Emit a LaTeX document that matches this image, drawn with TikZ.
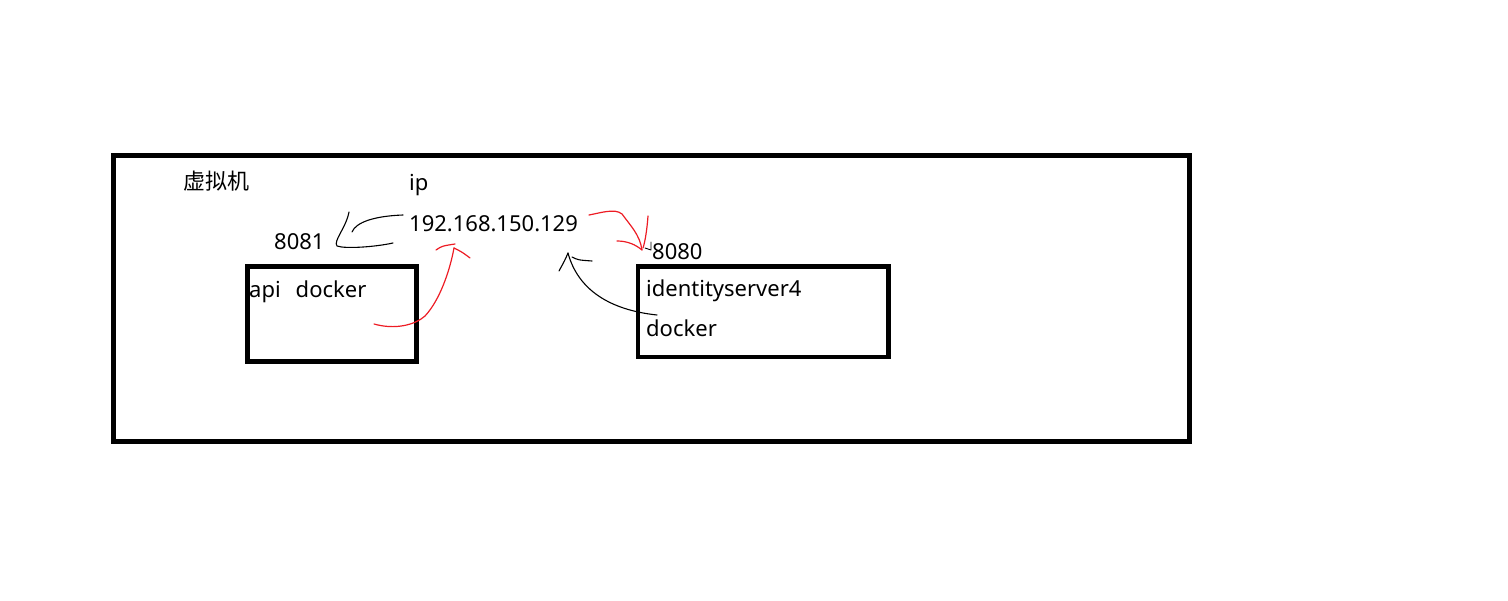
\documentclass[tikz,border=0pt]{standalone}
\usepackage{fontspec}
\setmainfont{Noto Sans}
\newfontfamily\cjk{Noto Sans CJK SC}
\definecolor{rouge}{RGB}{237,28,36}
\tikzset{
  cadre/.style={draw=black, line width=4.5pt},
  texte/.style={anchor=base west, inner sep=0pt, font=\fontsize{22}{26}\selectfont},
  trait/.style={draw=black, line width=1.1pt, line cap=round, line join=round},
  traitrouge/.style={draw=rouge, line width=1.2pt, line cap=round, line join=round}
}
\begin{document}
\begin{tikzpicture}[x=1pt,y=-1pt]
\useasboundingbox (0,0) rectangle (1508,601);

% les cadres
\draw[cadre] (113.5,155.5) rectangle (1189.5,441.5); %machine virtuelle
\draw[cadre] (247.5,266.5) rectangle (416.5,361.5); %conteneur api
\draw[cadre] (638,266.5) rectangle (888.5,357); %conteneur identityserver4

% les textes
\node[texte, font=\fontsize{22}{26}\cjk] (vm) at (183,190) {虚拟机};
\node[texte] (ip) at (409,191) {ip};
\node[texte] (adresse) at (409,232) {192.168.150.129};
\node[texte] (port1) at (274,250) {8081};
\node[texte] (port2) at (652,260) {8080};
\node[texte] (api) at (249,298) {api\hspace{15pt}docker};
\node[texte] (ids) at (646,297) {identityserver4};
\node[texte] (dock) at (646,337) {docker};

% points des fleches (tracées à main levée)
\coordinate (a1) at (403,215);
\coordinate (a2) at (352,232);
\coordinate (b1) at (349,212);
\coordinate (b2) at (393,243);
\coordinate (c1) at (374,324);
\coordinate (c2) at (454,248);
\coordinate (d1) at (589,215);
\coordinate (d2) at (642,250);
\coordinate (e1) at (657,315);
\coordinate (e2) at (568,253);

% adresse -> 8081
\draw[trait] (a1) .. controls (375,216) and (356,222) .. (a2);
\draw[trait] (b1) .. controls (346,228) and (333,241) .. (337,246) .. controls (345,249) and (375,247) .. (b2);

% api docker -> adresse
\draw[traitrouge] (c1) .. controls (395,330) and (415,325) .. (425,316) .. controls (440,300) and (450,270) .. (c2);
\draw[traitrouge] (436,250) .. controls (442,246) .. (455,244);
\draw[traitrouge] (c2) .. controls (462,252) .. (470,258);

% adresse -> 8080
\draw[traitrouge] (d1) .. controls (600,213) and (615,208) .. (622,214) .. controls (630,225) and (640,235) .. (d2);
\draw[traitrouge] (648,216) .. controls (647,230) and (645,242) .. (643,248);
\draw[traitrouge] (617,241) .. controls (628,241) and (636,245) .. (d2);
\draw[trait, line width=0.8pt] (645,248) -- (651,250) -- (651,242);

% docker -> adresse
\draw[trait] (e1) .. controls (610,310) and (578,290) .. (e2);
\draw[trait] (e2) .. controls (565,260) .. (559,271);
\draw[trait] (572,257) .. controls (578,260) .. (592,261);

\end{tikzpicture}
\end{document}
